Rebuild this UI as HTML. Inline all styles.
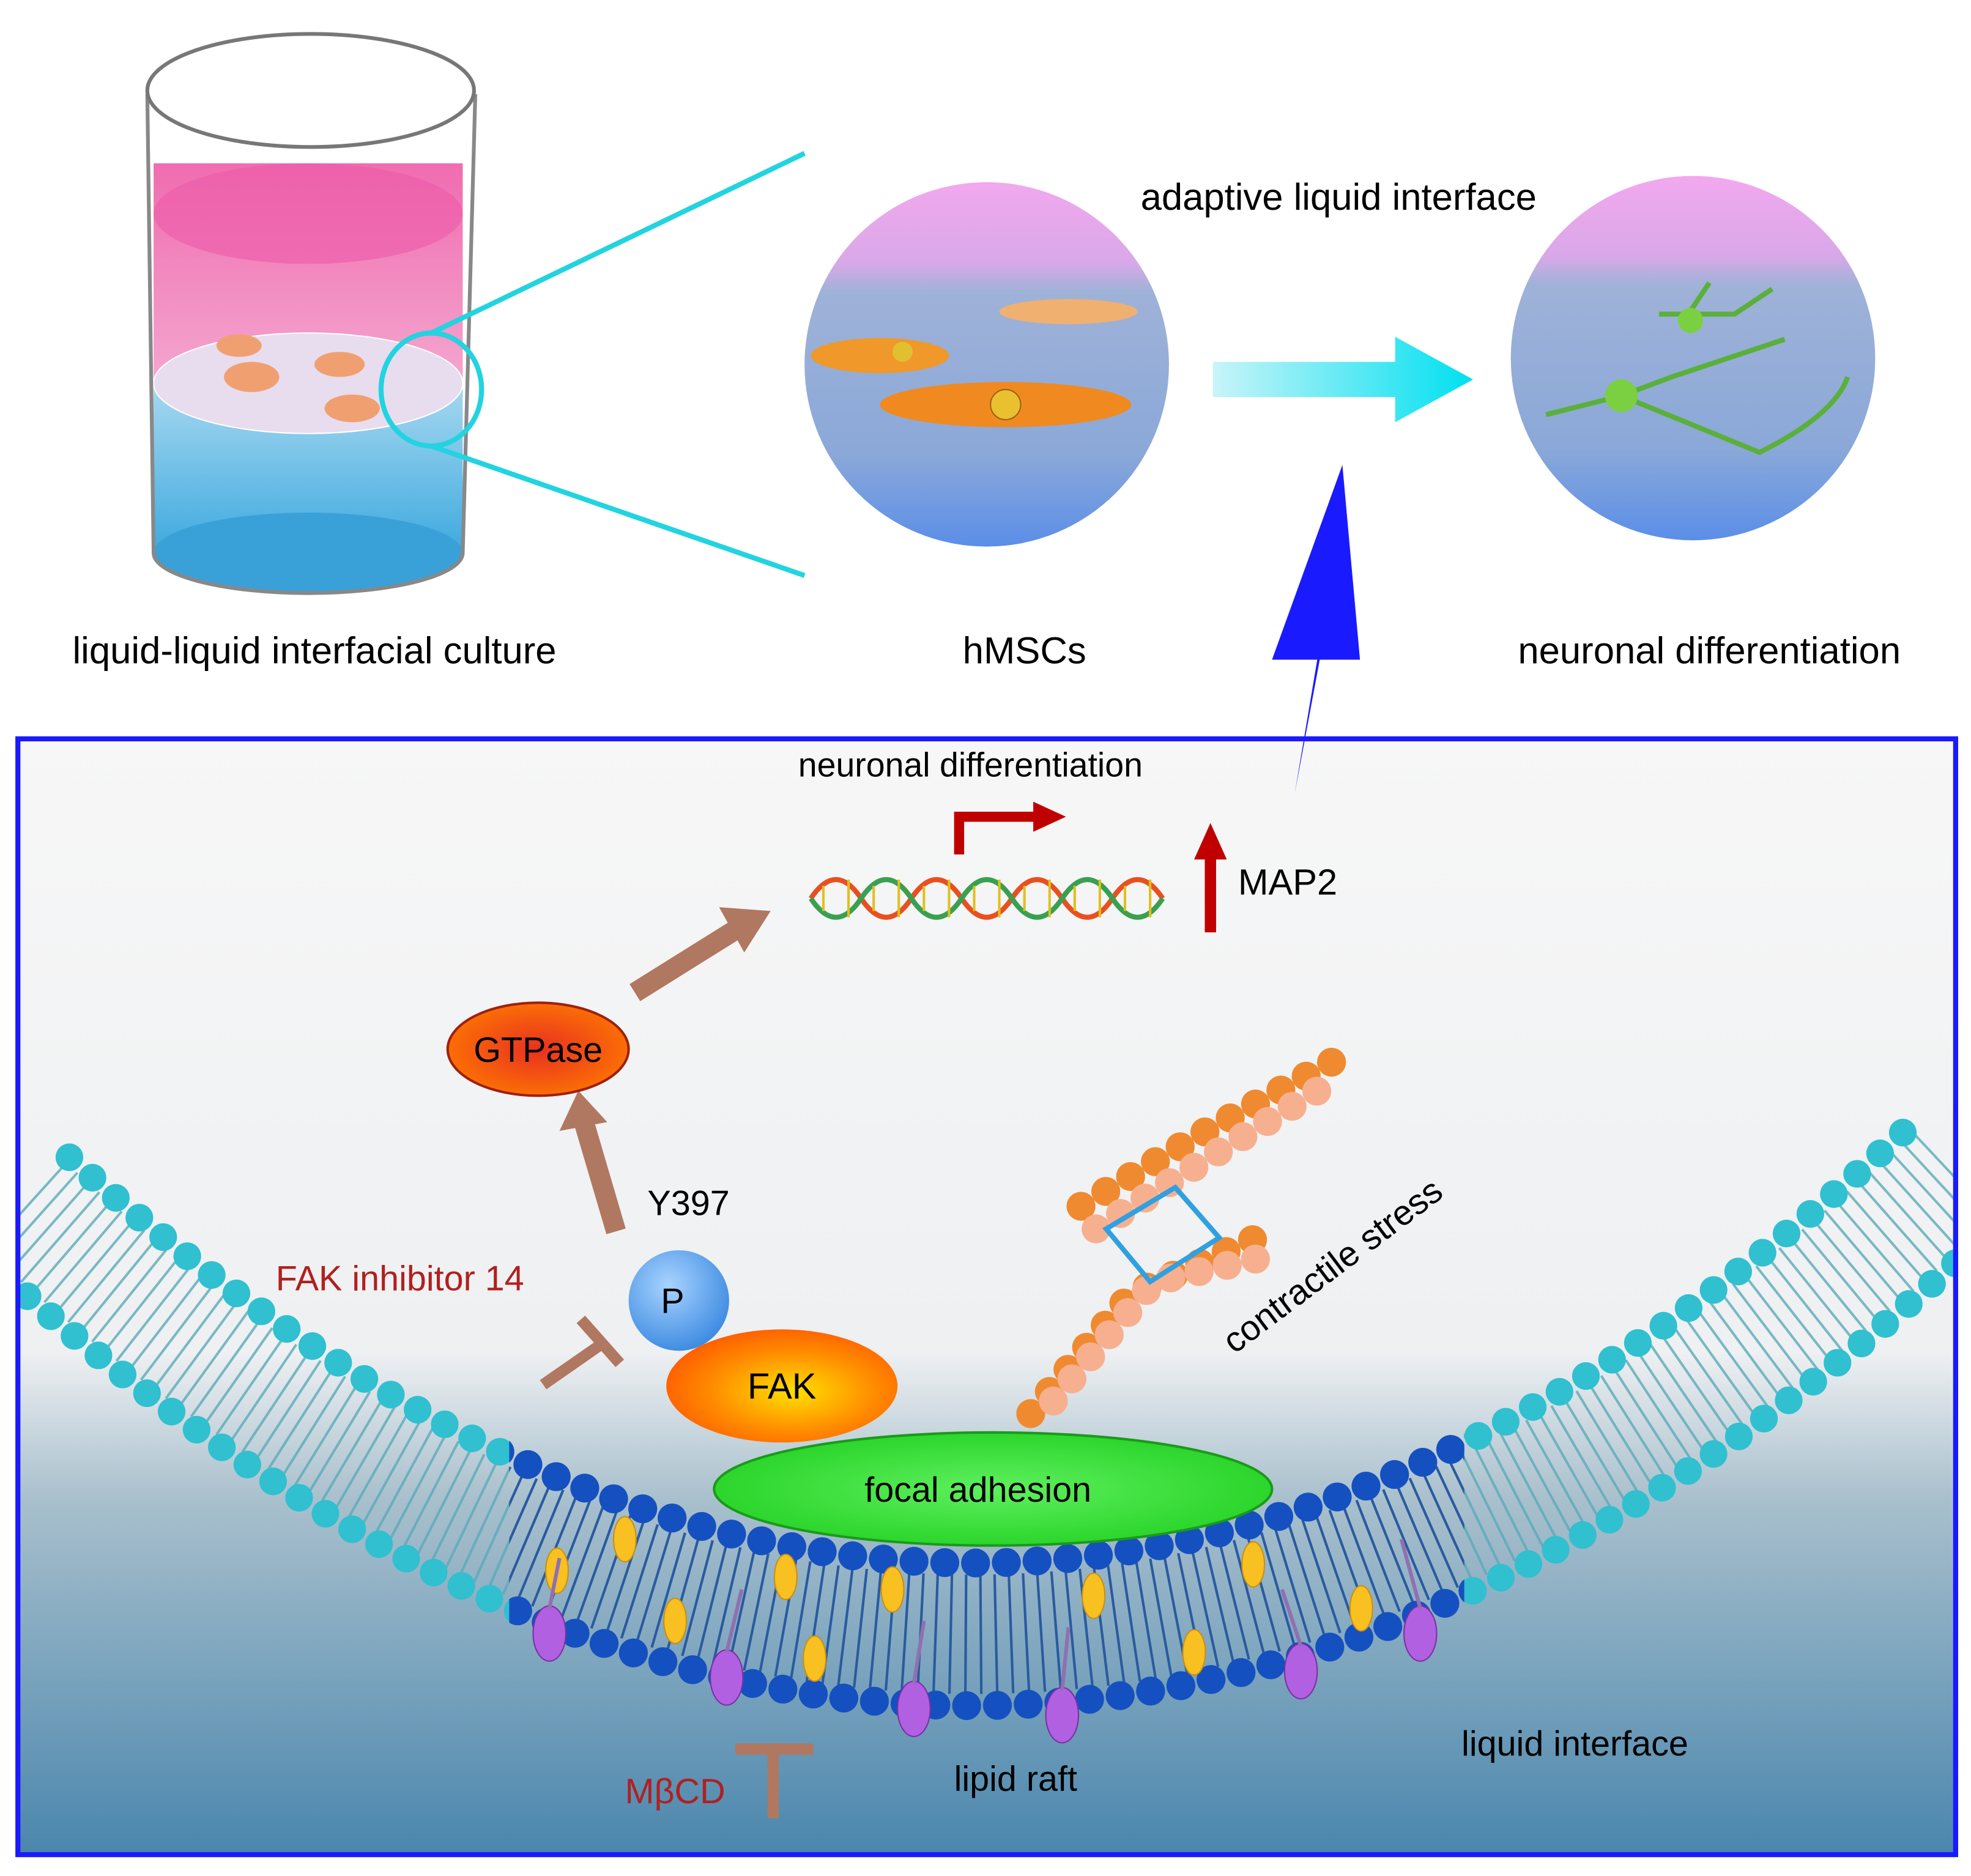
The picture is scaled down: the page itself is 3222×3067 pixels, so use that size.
<!DOCTYPE html>
<html><head><meta charset="utf-8"><style>
html,body{margin:0;padding:0;background:#fff;}
svg{display:block;width:3222px;height:3067px;}
text{font-family:"Liberation Sans",sans-serif;}
</style></head><body>
<svg viewBox="0 0 1568 1493" xmlns="http://www.w3.org/2000/svg">
<defs>
<linearGradient id="bg" x1="0" y1="0" x2="0" y2="1">
<stop offset="0" stop-color="#f7f7f7"/><stop offset="0.55" stop-color="#eef0f2"/>
<stop offset="0.68" stop-color="#a9c0cd"/><stop offset="1" stop-color="#4a86ad"/></linearGradient>
<linearGradient id="pink" x1="0" y1="0" x2="0" y2="1"><stop offset="0" stop-color="#f06cb0"/><stop offset="1" stop-color="#f4a6cf"/></linearGradient>
<linearGradient id="blue" x1="0" y1="0" x2="0" y2="1"><stop offset="0" stop-color="#a8d8f0"/><stop offset="1" stop-color="#3aa8de"/></linearGradient>
<linearGradient id="circ" x1="0" y1="0" x2="0" y2="1"><stop offset="0" stop-color="#f2a8ee"/><stop offset="0.22" stop-color="#d9a8e8"/><stop offset="0.3" stop-color="#9fb2d8"/><stop offset="0.75" stop-color="#8aa8d8"/><stop offset="1" stop-color="#5b8ee8"/></linearGradient>
<linearGradient id="carr" x1="0" y1="0" x2="1" y2="0"><stop offset="0" stop-color="#c8f4f8"/><stop offset="1" stop-color="#00e0f0"/></linearGradient>
<radialGradient id="org" cx="0.55" cy="0.55" r="0.6"><stop offset="0" stop-color="#ffe000"/><stop offset="0.6" stop-color="#ff8a00"/><stop offset="1" stop-color="#ff5a00"/></radialGradient>
<radialGradient id="gtp" cx="0.5" cy="0.5" r="0.6"><stop offset="0" stop-color="#e83020"/><stop offset="1" stop-color="#ff7a00"/></radialGradient>
<radialGradient id="pb" cx="0.4" cy="0.35" r="0.7"><stop offset="0" stop-color="#a8d4ff"/><stop offset="1" stop-color="#3a88e0"/></radialGradient>
<radialGradient id="grn" cx="0.5" cy="0.5" r="0.6"><stop offset="0" stop-color="#5ef05e"/><stop offset="1" stop-color="#22d022"/></radialGradient>
<clipPath id="raft"><rect x="405" y="1100" width="760" height="400"/></clipPath>
<clipPath id="box"><rect x="14" y="588" width="1542" height="888"/></clipPath>
</defs>
<rect width="1568" height="1493" fill="#fff"/>
<!-- beaker -->
<rect x="122" y="130" width="246" height="175" fill="url(#pink)"/>
<ellipse cx="245" cy="170" rx="123" ry="40" fill="#ec5aa8" opacity="0.6"/>
<rect x="122" y="305" width="246" height="140" fill="url(#blue)"/>
<ellipse cx="245" cy="440" rx="123" ry="32" fill="#3aa0d8"/>
<ellipse cx="245" cy="305" rx="123" ry="40" fill="#e8dcef" stroke="#fff" stroke-width="1"/>
<ellipse cx="200" cy="300" rx="22" ry="12" fill="#f0a070"/><ellipse cx="270" cy="290" rx="20" ry="10" fill="#f0a070"/><ellipse cx="280" cy="325" rx="22" ry="11" fill="#f0a070"/><ellipse cx="190" cy="275" rx="18" ry="9" fill="#f0a070"/>
<path d="M117 75 L122 440 A123 32 0 0 0 368 440 L378 75" fill="none" stroke="#888" stroke-width="3"/>
<ellipse cx="247" cy="72" rx="130" ry="45" fill="none" stroke="#777" stroke-width="3"/>
<ellipse cx="343" cy="310" rx="40" ry="45" fill="none" stroke="#22d3e0" stroke-width="4"/>
<line x1="343" y1="265" x2="640" y2="122" stroke="#22d3e0" stroke-width="4"/>
<line x1="343" y1="355" x2="640" y2="458" stroke="#22d3e0" stroke-width="4"/>
<!-- circles -->
<circle cx="785" cy="290" r="145" fill="url(#circ)"/>
<ellipse cx="700" cy="283" rx="55" ry="14" fill="#f0982a"/><circle cx="718" cy="280" r="8" fill="#e0c030"/>
<ellipse cx="800" cy="322" rx="100" ry="18" fill="#f08a20"/><circle cx="800" cy="322" r="12" fill="#e8c030" stroke="#a06010"/>
<ellipse cx="850" cy="248" rx="55" ry="10" fill="#f0b070"/>
<circle cx="1347" cy="285" r="145" fill="url(#circ)"/>
<path d="M1230 330 L1290 315 L1330 300 L1420 270 M1290 315 L1400 360 Q1460 330 1470 300 M1340 255 L1360 225 M1320 250 L1380 250 L1410 230" stroke="#5ab03a" stroke-width="4" fill="none"/>
<circle cx="1290" cy="315" r="13" fill="#7ad040"/><circle cx="1345" cy="255" r="10" fill="#7ad040"/>
<path d="M965 288 L1110 288 L1110 268 L1172 302 L1110 336 L1110 316 L965 316 Z" fill="url(#carr)"/>
<text x="1065" y="167" font-size="30" text-anchor="middle">adaptive liquid interface</text>
<text x="250" y="528" font-size="30" text-anchor="middle">liquid-liquid interfacial culture</text>
<text x="815" y="528" font-size="30" text-anchor="middle">hMSCs</text>
<text x="1360" y="528" font-size="30" text-anchor="middle">neuronal differentiation</text>
<!-- bottom box -->
<rect x="14" y="588" width="1542" height="888" fill="url(#bg)"/>
<g clip-path="url(#box)">
<!-- tails -->
<path d="M20 960 Q790 1656 1560 930" fill="none" stroke="#5aaab8" stroke-width="95" stroke-dasharray="2 10" opacity="0.8"/>
<path d="M20 960 Q790 1656 1560 930" fill="none" stroke="#2a5aa0" stroke-width="95" stroke-dasharray="2 10" clip-path="url(#raft)"/>
<!-- heads cyan -->
<path d="M55 921 Q790 1581 1524 892" fill="none" stroke="#30c0d0" stroke-width="22" stroke-linecap="round" stroke-dasharray="0 24.5"/>
<path d="M-15 999 Q790 1731 1596 968" fill="none" stroke="#30c0d0" stroke-width="22" stroke-linecap="round" stroke-dasharray="0 24.5"/>
<!-- heads dark blue raft -->
<g clip-path="url(#raft)">
<path d="M55 921 Q790 1581 1524 892" fill="none" stroke="#1550c0" stroke-width="23" stroke-linecap="round" stroke-dasharray="0 24.5"/>
<path d="M-15 999 Q790 1731 1596 968" fill="none" stroke="#1550c0" stroke-width="23" stroke-linecap="round" stroke-dasharray="0 24.5"/>
</g>
</g>
<!-- raft proteins -->
<g fill="#f8c020" stroke="#c89010">
<ellipse cx="443" cy="1250" rx="9" ry="18"/><ellipse cx="497" cy="1225" rx="9" ry="18"/><ellipse cx="537" cy="1290" rx="9" ry="18"/><ellipse cx="625" cy="1255" rx="9" ry="18"/><ellipse cx="648" cy="1320" rx="9" ry="18"/><ellipse cx="710" cy="1265" rx="9" ry="18"/><ellipse cx="870" cy="1270" rx="9" ry="18"/><ellipse cx="950" cy="1315" rx="9" ry="18"/><ellipse cx="997" cy="1245" rx="9" ry="18"/><ellipse cx="1083" cy="1280" rx="9" ry="18"/>
</g>
<g fill="#b060e0" stroke="#7a30a0">
<ellipse cx="437" cy="1300" rx="13" ry="22"/><ellipse cx="578" cy="1335" rx="13" ry="22"/><ellipse cx="727" cy="1360" rx="13" ry="22"/><ellipse cx="845" cy="1365" rx="13" ry="22"/><ellipse cx="1035" cy="1330" rx="13" ry="22"/><ellipse cx="1130" cy="1300" rx="13" ry="22"/>
</g>
<g stroke="#9070b0" stroke-width="3" fill="none">
<path d="M437 1280 L445 1240 M578 1315 L590 1265 M727 1340 L735 1290 M845 1345 L850 1295 M1035 1310 L1020 1265 M1130 1280 L1115 1225"/>
</g>
<!-- actin -->
<path d="M820 1125 L900 1030 L1000 985" fill="none" stroke="#f08a30" stroke-width="23" stroke-linecap="round" stroke-dasharray="0 23"/>
<path d="M838 1115 L918 1020 L1008 1000" fill="none" stroke="#f6b090" stroke-width="23" stroke-linecap="round" stroke-dasharray="0 23"/>
<path d="M860 960 L960 900 L1060 845" fill="none" stroke="#f08a30" stroke-width="23" stroke-linecap="round" stroke-dasharray="0 23"/>
<path d="M872 978 L972 915 L1058 862" fill="none" stroke="#f6b090" stroke-width="23" stroke-linecap="round" stroke-dasharray="0 23"/>
<path d="M880 978 L935 945 L970 985 L915 1020 Z" stroke="#30a0e0" stroke-width="4" fill="none"/>
<rect x="14" y="588" width="1542" height="888" fill="none" stroke="#1a1aff" stroke-width="4"/>
<path d="M1030 632 L1048 525 L1012 525 L1068 370 L1082 525 L1050 525 Z" fill="#1a1aff"/>
<!-- DNA -->
<path d="M645 715 Q665 685 685 715 T725 715 T765 715 T805 715 T845 715 T885 715 T925 715" stroke="#e85020" stroke-width="4" fill="none"/>
<path d="M645 715 Q665 745 685 715 T725 715 T765 715 T805 715 T845 715 T885 715 T925 715" stroke="#3aa050" stroke-width="4" fill="none"/>
<path d="M655 705v20M675 700v30M695 705v20M715 700v30M735 705v20M755 700v30M775 705v20M795 700v30M815 705v20M835 700v30M855 705v20M875 700v30M895 705v20M915 700v30" stroke="#e0c020" stroke-width="2"/>
<path d="M763 680 L763 650 L825 650" stroke="#c00000" stroke-width="8" fill="none"/><path d="M822 638 L848 650 L822 662 Z" fill="#c00000"/>
<path d="M963 742 L963 680" stroke="#c00000" stroke-width="9"/><path d="M950 684 L963 655 L976 684 Z" fill="#c00000"/>
<text x="772" y="618" font-size="27" text-anchor="middle">neuronal differentiation</text>
<text x="985" y="712" font-size="29">MAP2</text>
<path d="M505 790 L585 740" stroke="#b07860" stroke-width="16"/><path d="M572 722 L613 725 L592 758 Z" fill="#b07860"/>
<path d="M490 980 L465 895" stroke="#b07860" stroke-width="16"/><path d="M445 900 L460 868 L483 893 Z" fill="#b07860"/>
<path d="M432 1102 L478 1070 M462 1050 L493 1085" stroke="#b07860" stroke-width="9"/>
<path d="M615 1447 L615 1392 M585 1392 L647 1392" stroke="#b07860" stroke-width="9"/>
<ellipse cx="428" cy="835" rx="72" ry="37" fill="url(#gtp)" stroke="#a02010" stroke-width="2"/>
<text x="428" y="845" font-size="28" text-anchor="middle">GTPase</text>
<ellipse cx="790" cy="1185" rx="222" ry="45" fill="url(#grn)" stroke="#1a9a1a" stroke-width="2"/>
<text x="778" y="1195" font-size="28" text-anchor="middle">focal adhesion</text>
<ellipse cx="622" cy="1103" rx="92" ry="45" fill="url(#org)"/>
<text x="622" y="1113" font-size="29" text-anchor="middle">FAK</text>
<circle cx="540" cy="1035" r="40" fill="url(#pb)"/>
<text x="535" y="1045" font-size="28" text-anchor="middle">P</text>
<text x="515" y="967" font-size="28">Y397</text>
<text x="318" y="1027" font-size="28" fill="#b02020" text-anchor="middle">FAK inhibitor 14</text>
<text x="0" y="0" font-size="28" transform="translate(982 1078) rotate(-37)">contractile stress</text>
<text x="1253" y="1397" font-size="28" text-anchor="middle">liquid interface</text>
<text x="808" y="1425" font-size="28" text-anchor="middle">lipid raft</text>
<text x="537" y="1435" font-size="28" fill="#b02020" text-anchor="middle">MβCD</text>
</svg>
</body></html>
